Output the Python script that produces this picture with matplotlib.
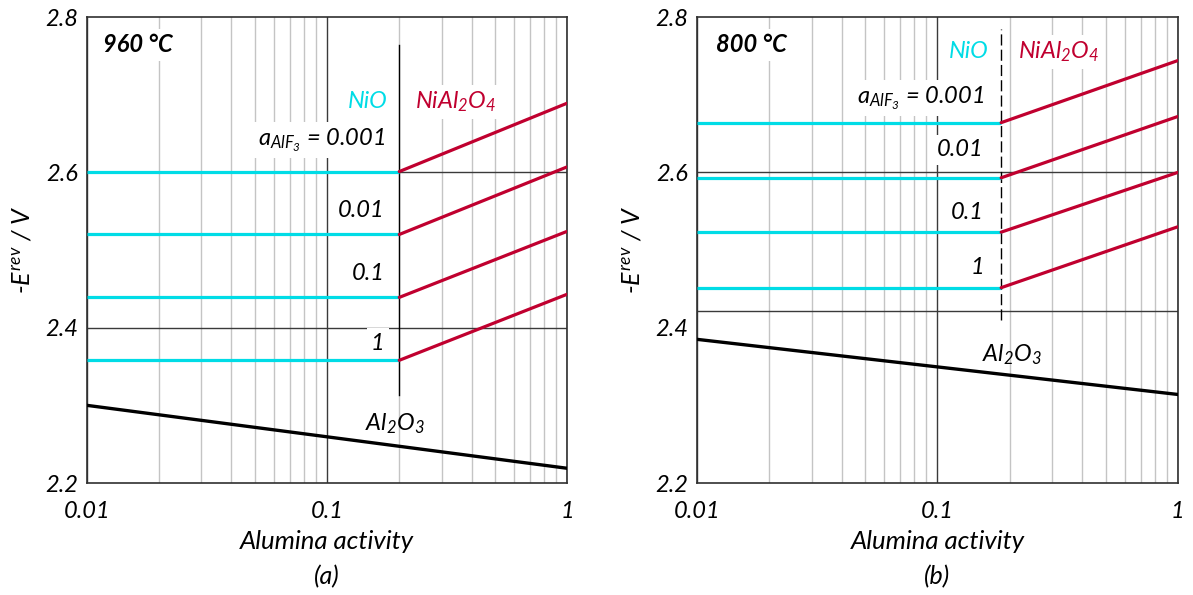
import matplotlib
matplotlib.use('Agg')
import matplotlib.pyplot as plt
import numpy as np

plt.rcParams['font.family'] = ['Lato', 'DejaVu Sans']
plt.rcParams['font.style'] = 'italic'
plt.rcParams['mathtext.fontset'] = 'custom'
plt.rcParams['mathtext.it'] = 'Lato:italic'
plt.rcParams['mathtext.rm'] = 'Lato:italic'

# --- data ---
alf3_labels = ['0.001', '0.01', '0.1', '1']

# (a) 960 C
temp_a = '960 °C'
boundary_a = 0.2                       # NiO / NiAl2O4 boundary activity
nio_a = [2.601, 2.520, 2.439, 2.358]   # flat NiO levels
nial_a = [2.689, 2.607, 2.524, 2.443]  # NiAl2O4 at a(Al2O3) = 1
al2o3_a = [2.300, 2.219]               # at 0.01 and 1
hgrid_a = [2.4, 2.6]

# (b) 800 C
temp_b = '800 °C'
boundary_b = 0.184
nio_b = [2.664, 2.593, 2.523, 2.4515]
nial_b = [2.744, 2.672, 2.600, 2.530]
al2o3_b = [2.385, 2.314]
hgrid_b = [2.422, 2.6]

x_ends = [0.01, 1.0]

CYAN = '#00dce6'
RED = '#c0002f'


def draw_panel(ax, temp, boundary, nio, nial, al2o3, hgrid, caption, lbl):
    ax.set_xscale('log')
    ax.set_xlim(0.01, 1)
    ax.set_ylim(2.2, 2.8)
    ax.set_xticks([0.01, 0.1, 1])
    ax.set_xticklabels(['0.01', '0.1', '1'])
    minors = [m * d for d in (0.01, 0.1) for m in range(2, 10)]
    ax.set_xticks(minors, minor=True)
    ax.set_xticklabels([], minor=True)
    ax.set_yticks([2.2, 2.4, 2.6, 2.8])
    ax.set_yticklabels(['2.2', '2.4', '2.6', '2.8'])
    ax.tick_params(which='both', length=0, labelsize=17)
    ax.tick_params(axis='x', pad=13)
    ax.tick_params(axis='y', pad=6)
    ax.set_axisbelow(True)
    ax.grid(which='minor', axis='x', color='#c4c4c4', lw=1.0)
    ax.grid(which='major', axis='x', color='#3a3a3a', lw=1.0)
    for h in hgrid:
        ax.axhline(h, color='#3a3a3a', lw=1.0, zorder=0.6)
    for s in ax.spines.values():
        s.set_color('#303030')
        s.set_linewidth(1.2)

    # boundary line
    ax.plot([boundary, boundary], lbl['bline'], color='black', lw=1.0,
            ls=lbl['bls'], zorder=1)

    for n, r in zip(nio, nial):
        ax.plot([0.01, boundary], [n, n], color=CYAN, lw=2.3, zorder=3,
                solid_capstyle='butt')
        ax.plot([boundary, 1.0], [n, r], color=RED, lw=2.3, zorder=3,
                solid_capstyle='round')
    ax.plot(x_ends, al2o3, color='black', lw=2.4, zorder=3)

    box = dict(facecolor='white', edgecolor='none', pad=3)
    ax.text(lbl['temp'][0], lbl['temp'][1], temp, fontsize=17, fontweight='bold',
            ha='left', va='center', bbox=box, zorder=2)
    ax.text(lbl['nio'][0], lbl['nio'][1], 'NiO', color=CYAN, fontsize=17,
            ha='right', va='center', bbox=box, zorder=2)
    ax.text(lbl['nial'][0], lbl['nial'][1], r'NiAl$_2$O$_4$', color=RED, fontsize=17,
            ha='left', va='center', bbox=box, zorder=2)
    for i, (txt, y) in enumerate(zip(alf3_labels, lbl['ys'])):
        s = r'$a_{AlF_3}$ = ' + txt if i == 0 else txt
        ax.text(lbl['xr'], y, s, fontsize=17, ha='right', va='center',
                bbox=box, zorder=2)
    ax.text(lbl['al'][0], lbl['al'][1], r'Al$_2$O$_3$', fontsize=17,
            ha='center', va='center', zorder=2)

    ax.set_xlabel('Alumina activity', fontsize=18.5, labelpad=6)
    ax.set_ylabel(r'-$E^{rev}$ / V', fontsize=18, labelpad=8)
    ax.text(0.5, -0.2, caption, transform=ax.transAxes, fontsize=18,
            ha='center', va='center')


fig = plt.figure(figsize=(11.93, 5.95), dpi=100)
ax1 = fig.add_axes([0.0729, 0.1882, 0.4024, 0.7832])
ax2 = fig.add_axes([0.5842, 0.1882, 0.4032, 0.7832])

draw_panel(ax1, temp_a, boundary_a, nio_a, nial_a, al2o3_a, hgrid_a, '(a)',
           dict(bline=[2.313, 2.764], bls='-', temp=(0.0117, 2.764),
                nio=(0.178, 2.6906), nial=(0.233, 2.6906), xr=0.174,
                ys=[2.6416, 2.5515, 2.470, 2.380], al=(0.192, 2.277)))
draw_panel(ax2, temp_b, boundary_b, nio_b, nial_b, al2o3_b, hgrid_b, '(b)',
           dict(bline=[2.410, 2.785], bls=(0, (8, 3)), temp=(0.0120, 2.764),
                nio=(0.163, 2.755), nial=(0.216, 2.755), xr=0.156,
                ys=[2.6957, 2.6288, 2.5477, 2.477], al=(0.204, 2.365)))

fig.savefig('out.png', dpi=100)
